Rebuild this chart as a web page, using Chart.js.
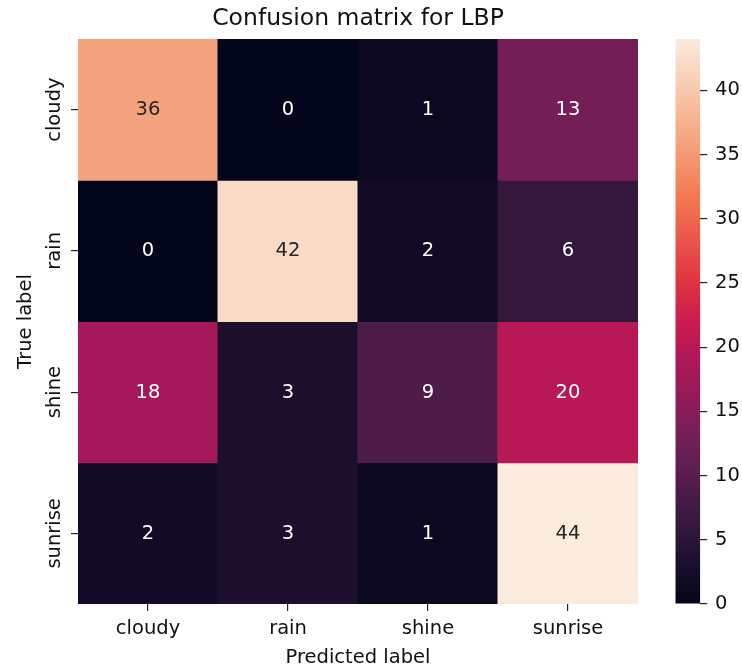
<!DOCTYPE html>
<html>
<head>
<meta charset="utf-8">
<script src="https://cdn.jsdelivr.net/npm/chart.js@4"></script>
<style>
  html, body { margin: 0; padding: 0; background: #ffffff; }
  #wrap { position: relative; width: 742px; height: 670px; overflow: hidden; }
  #main { position: absolute; left: 0; top: 0; }
  #cbar { position: absolute; left: 660px; top: 0; }
</style>
</head>
<body>
<div id="wrap">
  <canvas id="main" width="660" height="670"></canvas>
  <canvas id="cbar" width="82" height="670"></canvas>
</div>
<script>
// ---------- data ----------
const trueLabels = ['cloudy', 'rain', 'shine', 'sunrise'];
const predictedLabels = ['cloudy', 'rain', 'shine', 'sunrise'];
const cloudyRow  = [36, 0, 1, 13];
const rainRow    = [0, 42, 2, 6];
const shineRow   = [18, 3, 9, 20];
const sunriseRow = [2, 3, 1, 44];
const colorbarTicks = [0, 5, 10, 15, 20, 25, 30, 35, 40];
const titleText = 'Confusion matrix for LBP';
const xTitle = 'Predicted label';
const yTitle = 'True label';

// seaborn "rocket" colormap stops
const rocketPos    = [0, 1/7, 2/7, 3/7, 0.5, 4/7, 5/7, 6/7, 1];
const rocketColors = ['#03051a', '#35193e', '#701f57', '#ad1759', '#cb1b4f', '#e13342', '#f37651', '#f6b48f', '#faebdd'];

const rows = [cloudyRow, rainRow, shineRow, sunriseRow];
const allVals = rows.flat();
const vmin = Math.min(...allVals);
const vmax = Math.max(...allVals);

function hexToRgb(h) {
  return [parseInt(h.slice(1, 3), 16), parseInt(h.slice(3, 5), 16), parseInt(h.slice(5, 7), 16)];
}
const stopRgb = rocketColors.map(hexToRgb);
function rocket(t) {
  t = Math.max(0, Math.min(1, t));
  let i = 0;
  while (i < rocketPos.length - 2 && t > rocketPos[i + 1]) i++;
  const f = (t - rocketPos[i]) / (rocketPos[i + 1] - rocketPos[i]);
  const a = stopRgb[i], b = stopRgb[i + 1];
  return [0, 1, 2].map(k => a[k] + (b[k] - a[k]) * f);
}
function rgbStr(c) { return 'rgb(' + c.map(v => Math.round(v)).join(',') + ')'; }
function colorFor(v) { return rgbStr(rocket((v - vmin) / (vmax - vmin))); }
function luminance(c) {
  const lin = c.map(v => { v /= 255; return v <= 0.03928 ? v / 12.92 : Math.pow((v + 0.055) / 1.055, 2.4); });
  return 0.2126 * lin[0] + 0.7152 * lin[1] + 0.0722 * lin[2];
}

const FONT = "'DejaVu Sans', 'Liberation Sans', sans-serif";
const TXT = '#111111';
const LABEL_SIZE = 19.5;

// ---------- heatmap ----------
const datasets = rows.map((vals, i) => ({
  label: trueLabels[i],
  values: vals,
  data: vals.map(() => [i, i + 1]),
  backgroundColor: vals.map(colorFor),
  borderWidth: 0,
  borderSkipped: false,
  grouped: false,
  barPercentage: 1,
  categoryPercentage: 1
}));

const annotPlugin = {
  id: 'annot',
  afterDatasetsDraw(chart) {
    const ctx = chart.ctx;
    ctx.save();
    ctx.font = LABEL_SIZE + 'px ' + FONT;
    ctx.textAlign = 'center';
    ctx.textBaseline = 'middle';
    chart.data.datasets.forEach((ds, i) => {
      const meta = chart.getDatasetMeta(i);
      meta.data.forEach((bar, j) => {
        const v = ds.values[j];
        const p = bar.getProps(['x', 'y', 'base'], true);
        const c = rocket((v - vmin) / (vmax - vmin));
        ctx.fillStyle = luminance(c) > 0.408 ? '#262626' : '#ffffff';
        ctx.fillText(String(v), p.x, (p.y + p.base) / 2 + 0.5);
      });
    });
    ctx.restore();
  }
};

new Chart(document.getElementById('main'), {
  type: 'bar',
  data: { labels: predictedLabels, datasets },
  options: {
    responsive: false,
    animation: false,
    events: [],
    inflateAmount: 0.5,
    layout: { padding: { left: 0, right: 22, top: 0, bottom: 0 } },
    plugins: {
      legend: { display: false },
      tooltip: { enabled: false },
      title: {
        display: true,
        text: titleText,
        fullSize: false,
        color: TXT,
        font: { family: FONT, size: 23.5, weight: 'normal', lineHeight: 1.2 },
        padding: { top: 4.3, bottom: 6.5 }
      }
    },
    scales: {
      x: {
        type: 'category',
        offset: true,
        border: { display: false },
        grid: { offset: false, drawOnChartArea: false, drawTicks: true, tickLength: 7, color: '#222', lineWidth: 1.2 },
        ticks: { color: TXT, font: { family: FONT, size: LABEL_SIZE }, padding: 6.1, maxRotation: 0, minRotation: 0 },
        title: { display: true, text: xTitle, color: TXT, font: { family: FONT, size: LABEL_SIZE, lineHeight: 1.2 }, padding: { top: 0, bottom: 0.8 } },
        afterFit(s) { s.height = 66; }
      },
      y: {
        type: 'linear',
        min: 0,
        max: 4,
        reverse: true,
        border: { display: false },
        grid: { drawOnChartArea: false, drawTicks: true, tickLength: 7, color: '#222', lineWidth: 1.2 },
        afterBuildTicks(s) { s.ticks = trueLabels.map((_, i) => ({ value: i + 0.5 })); },
        ticks: {
          color: TXT,
          font: { family: FONT, size: LABEL_SIZE },
          minRotation: 90,
          maxRotation: 90,
          crossAlign: 'center',
          padding: -19.4,
          autoSkip: false,
          callback: (v) => trueLabels[Math.floor(v)]
        },
        title: { display: true, text: yTitle, color: TXT, font: { family: FONT, size: LABEL_SIZE, lineHeight: 1.2 }, padding: { top: 14.3, bottom: 0 } },
        afterFit(s) { s.width = 78; }
      }
    }
  },
  plugins: [annotPlugin]
});

// ---------- colorbar ----------
new Chart(document.getElementById('cbar'), {
  type: 'bar',
  data: {
    labels: [''],
    datasets: [{
      data: [[vmin, vmax]],
      borderWidth: 0,
      borderSkipped: false,
      barPercentage: 1,
      categoryPercentage: 1,
      inflateAmount: 0,
      backgroundColor(ctx) {
        const chart = ctx.chart;
        if (!chart.chartArea) return rocketColors[0];
        const ys = chart.scales.y;
        const g = chart.ctx.createLinearGradient(0, ys.getPixelForValue(vmin), 0, ys.getPixelForValue(vmax));
        rocketColors.forEach((c, k) => g.addColorStop(rocketPos[k], c));
        return g;
      }
    }]
  },
  options: {
    responsive: false,
    animation: false,
    events: [],
    layout: { padding: { left: 15.3, right: 0, top: 39, bottom: 66 } },
    plugins: { legend: { display: false }, tooltip: { enabled: false }, title: { display: false } },
    scales: {
      x: { display: false },
      y: {
        type: 'linear',
        position: 'right',
        min: vmin,
        max: vmax,
        border: { display: false },
        grid: { drawOnChartArea: false, drawTicks: true, tickLength: 7, color: '#222', lineWidth: 1.2 },
        afterBuildTicks(s) { s.ticks = colorbarTicks.map(v => ({ value: v })); },
        ticks: { color: TXT, font: { family: FONT, size: LABEL_SIZE }, padding: 7.7, autoSkip: false },
        afterFit(s) { s.width = 41.7; }
      }
    }
  }
});
</script>
</body>
</html>
